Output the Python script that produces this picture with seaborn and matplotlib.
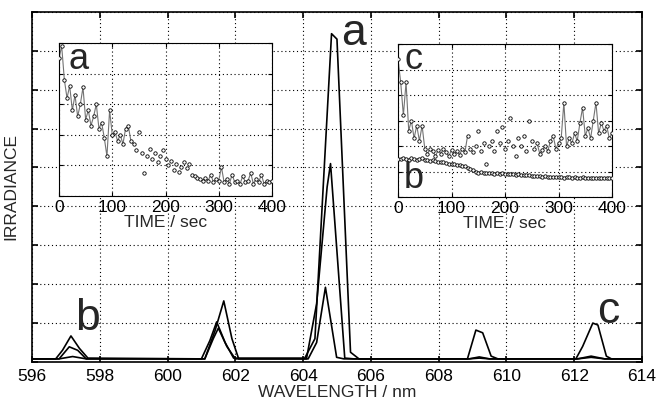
import numpy as np
import pandas as pd
import matplotlib
matplotlib.use('Agg')
import matplotlib.pyplot as plt
import seaborn as sns

# --- emission spectra (three acquisition times) ---
wl_early = [596.0, 596.7, 596.9, 597.15, 597.4, 597.65, 601.0, 601.25, 601.45, 601.7, 601.95,
            604.05, 604.35, 604.84, 605.0, 605.4, 605.65, 608.9, 609.2, 609.5, 612.1, 612.5, 612.9, 614.0]
irr_early = [0.08, 0.08, 0.30, 0.67, 0.35, 0.10, 0.08, 0.55, 1.03, 0.50, 0.10,
             0.10, 0.60, 8.44, 8.30, 0.25, 0.08, 0.08, 0.13, 0.08, 0.08, 0.12, 0.08, 0.08]

wl_mid = [596.0, 596.8, 597.1, 597.35, 597.6, 601.1, 601.35, 601.5, 601.75, 602.0,
          604.1, 604.4, 604.71, 604.81, 605.23, 605.5, 608.9, 609.2, 609.5, 612.1, 612.5, 612.9, 614.0]
irr_mid = [0.08, 0.08, 0.39, 0.30, 0.08, 0.08, 0.60, 0.87, 0.40, 0.08,
           0.08, 1.50, 4.50, 5.10, 0.10, 0.08, 0.08, 0.10, 0.08, 0.08, 0.15, 0.08, 0.08]

wl_late = [596.0, 596.8, 597.2, 597.6, 601.1, 601.4, 601.66, 601.9, 602.1,
           604.15, 604.4, 604.66, 604.99, 605.2, 608.85, 609.1, 609.3, 609.55, 609.75,
           612.05, 612.25, 612.55, 612.7, 612.95, 613.1, 614.0]
irr_late = [0.08, 0.08, 0.14, 0.08, 0.08, 0.80, 1.57, 0.60, 0.08,
            0.08, 0.50, 1.92, 0.12, 0.08, 0.08, 0.82, 0.75, 0.15, 0.08,
            0.08, 0.40, 1.00, 0.95, 0.15, 0.08, 0.08]

# --- time traces for the insets ---
time_sec = list(range(0, 401, 5))
trace_a = [4.5, 4.9, 3.8, 3.2, 3.6, 2.8, 3.3, 2.6, 3.0, 3.55, 2.5, 2.8, 2.3, 2.6, 3.0, 2.2, 2.4,
           1.9, 1.3, 2.8, 2.0, 2.1, 1.8, 2.0, 1.7, 2.2, 2.3, 1.8, 1.7, 1.5, 2.1, 1.4, 0.75,
           1.3, 1.55, 1.2, 1.4, 1.1, 1.3, 1.5, 1.2, 1.0, 1.15, 0.85, 1.05, 0.8, 0.95, 1.1,
           0.9, 1.05, 0.7, 0.65, 0.6, 0.55, 0.5, 0.6, 0.5, 0.7, 0.45, 0.55, 0.5, 0.95, 0.45,
           0.55, 0.4, 0.7, 0.45, 0.5, 0.4, 0.65, 0.45, 0.5, 0.75, 0.4, 0.55, 0.45, 0.7, 0.4,
           0.5, 0.45, 0.5]
trace_c = [5.4, 4.5, 3.2, 4.5, 2.6, 3.0, 2.3, 2.8, 2.2, 2.8, 1.9, 1.7, 1.9, 1.8, 1.6, 1.85,
           1.7, 1.9, 1.75, 1.6, 1.85, 1.7, 1.8, 1.65, 1.9, 1.75, 2.4, 1.9, 1.75, 2.0, 2.6,
           1.8, 2.1, 1.3, 2.0, 2.2, 1.8, 2.6, 2.1, 2.75, 1.9, 2.2, 3.1, 2.0, 1.6, 2.3, 2.0,
           2.4, 1.8, 3.0, 2.2, 1.9, 2.1, 1.7, 1.85, 2.0, 1.8, 2.2, 2.4, 1.9, 2.1, 2.3, 3.7,
           2.0, 2.3, 2.1, 2.5, 2.2, 2.9, 3.5, 2.4, 2.7, 2.3, 3.0, 3.7, 2.5, 2.9, 2.6, 2.8,
           2.3, 2.5]
trace_b = [1.50, 1.48, 1.53, 1.51, 1.47, 1.52, 1.50, 1.46, 1.49, 1.52, 1.47, 1.45, 1.42,
           1.44, 1.40, 1.38, 1.36, 1.37, 1.33, 1.31, 1.30, 1.28, 1.26, 1.24, 1.22, 1.20,
           1.15, 1.10, 1.05, 1.00, 0.96, 0.97, 0.95, 0.93, 0.96, 0.94, 0.92, 0.93, 0.91,
           0.94, 0.92, 0.90, 0.91, 0.89, 0.88, 0.90, 0.87, 0.86, 0.88, 0.85, 0.84, 0.83,
           0.82, 0.81, 0.80, 0.81, 0.79, 0.80, 0.78, 0.79, 0.77, 0.78, 0.76, 0.78, 0.77,
           0.76, 0.77, 0.75, 0.76, 0.77, 0.75, 0.76, 0.74, 0.76, 0.75, 0.74, 0.76, 0.75,
           0.74, 0.75, 0.76]

sns.set_style('ticks')
plt.rcParams['font.family'] = ['Liberation Sans', 'DejaVu Sans']
plt.rcParams['font.size'] = 12.5

GRID = dict(color='black', linestyle=(0, (1, 2.5)), linewidth=0.8)


def style_axes(ax, lw, tick_len=4):
    for s in ax.spines.values():
        s.set_visible(True)
        s.set_linewidth(lw)
        s.set_color('black')
    ax.tick_params(direction='in', length=tick_len, width=lw, top=True, right=True,
                   colors='black', labelsize=12.5, pad=3)
    ax.set_axisbelow(True)
    ax.grid(True, **GRID)


fig = plt.figure(figsize=(6.58, 4.01), dpi=100)
ax = fig.add_axes([0.0486, 0.0973, 0.927, 0.873])

spec = pd.concat([
    pd.DataFrame({'wavelength': wl_early, 'irradiance': irr_early, 'spectrum': 'early'}),
    pd.DataFrame({'wavelength': wl_mid, 'irradiance': irr_mid, 'spectrum': 'mid'}),
    pd.DataFrame({'wavelength': wl_late, 'irradiance': irr_late, 'spectrum': 'late'}),
])
sns.lineplot(data=spec, x='wavelength', y='irradiance', units='spectrum', estimator=None,
             sort=False, color='black', linewidth=1.2, ax=ax)

ax.set_xlim(596, 614)
ax.set_ylim(0, 9)
ax.set_xticks(np.arange(596, 615, 2))
ax.set_yticks(np.arange(0, 10, 1))
ax.set_yticklabels([])
style_axes(ax, 1.2)
ax.tick_params(axis='x', pad=5)
ax.set_xlabel('WAVELENGTH / nm', fontsize=12.5, labelpad=1)
ax.set_ylabel('IRRADIANCE', fontsize=12.5, labelpad=7)

ax.text(605.5, 8.44, 'a', fontsize=32, ha='center', va='center')
ax.text(597.65, 1.13, 'b', fontsize=32, ha='center', va='center')
ax.text(613.0, 1.3, 'c', fontsize=32, ha='center', va='center')


def draw_trace(axi, t, v, lined, line_color='0.45'):
    df = pd.DataFrame({'t': t, 'v': v})
    for lo, hi in lined:
        seg = df[(df.t >= lo) & (df.t <= hi)]
        sns.lineplot(data=seg, x='t', y='v', color=line_color, linewidth=0.8,
                     estimator=None, sort=False, ax=axi, zorder=2)
    sns.scatterplot(data=df, x='t', y='v', s=6, color='white', edgecolor='black',
                    linewidth=0.6, ax=axi, zorder=3)


def style_inset(axi, ymax):
    axi.set_facecolor('white')
    axi.set_xlim(0, 400)
    axi.set_ylim(0, ymax)
    axi.set_xticks([0, 100, 200, 300, 400])
    axi.set_yticks(np.arange(0, ymax + 1, 1))
    axi.set_yticklabels([])
    axi.set_xlabel('TIME / sec', fontsize=12.5, labelpad=0)
    axi.set_ylabel('')
    style_axes(axi, 0.8, tick_len=3)


ax_a = fig.add_axes([0.0897, 0.5112, 0.3237, 0.3815], zorder=5)
draw_trace(ax_a, time_sec, trace_a, [(0, 140), (255, 400)])
style_inset(ax_a, 5)
ax_a.text(0.09, 0.89, 'a', transform=ax_a.transAxes, fontsize=26, ha='center', va='center')

ax_c = fig.add_axes([0.6049, 0.5087, 0.3252, 0.3815], zorder=5)
draw_trace(ax_c, time_sec, trace_b, [(0, 400)], line_color='black')
draw_trace(ax_c, time_sec, trace_c, [(0, 130), (260, 400)])
style_inset(ax_c, 6)
ax_c.text(0.07, 0.90, 'c', transform=ax_c.transAxes, fontsize=26, ha='center', va='center')
ax_c.text(0.075, 0.124, 'b', transform=ax_c.transAxes, fontsize=26, ha='center', va='center')

fig.savefig('out.png', dpi=100)
